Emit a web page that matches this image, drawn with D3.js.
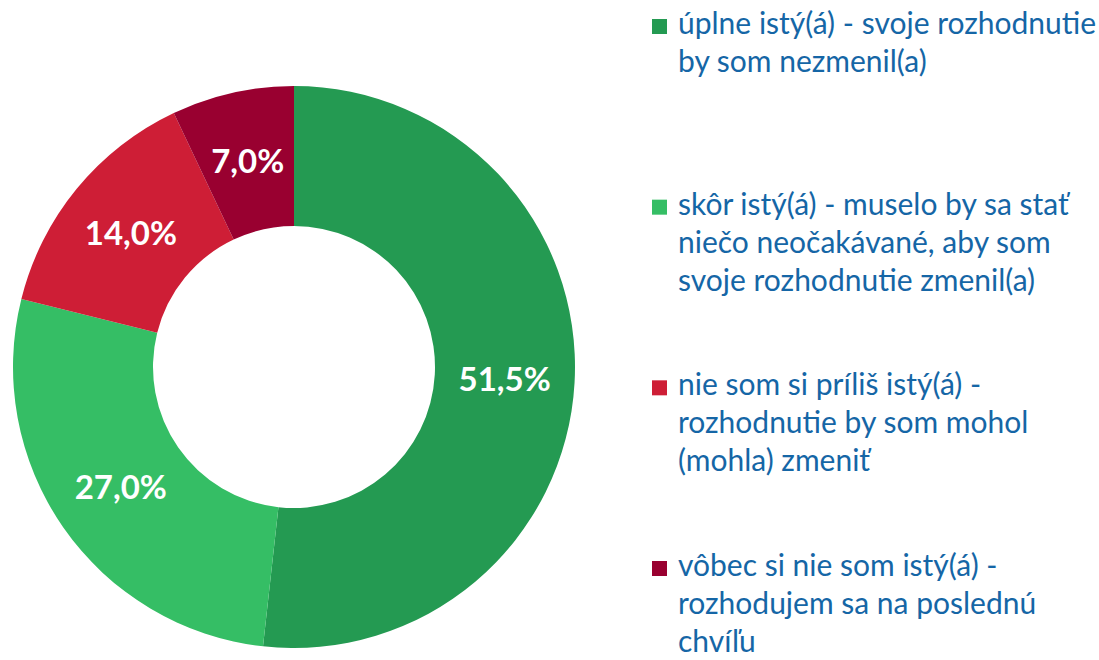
<!DOCTYPE html>
<html><head><meta charset="utf-8">
<script src="https://cdn.jsdelivr.net/npm/d3@7"></script>
<style>body{margin:0;background:#fff}svg{display:block}</style>
</head><body>
<svg id="c" width="1099" height="660"></svg>
<script>
const categories = [
  ["úplne istý(á) - svoje rozhodnutie", "by som nezmenil(a)"],
  ["skôr istý(á) - muselo by sa stať", "niečo neočakávané, aby som", "svoje rozhodnutie zmenil(a)"],
  ["nie som si príliš istý(á) -", "rozhodnutie by som mohol", "(mohla) zmeniť"],
  ["vôbec si nie som istý(á) -", "rozhodujem sa na poslednú", "chvíľu"]
];
const values = [51.5, 27.0, 14.0, 7.0];
const labels = ["51,5%", "27,0%", "14,0%", "7,0%"];
const colors = ["#249A52", "#35BE65", "#CE1E36", "#990030"];

const svg = d3.select("#c");
const cx = 294, cy = 367, rOut = 281, rIn = 141;
const pie = d3.pie().sort(null).value(d => d);
const arcs = pie(values);
const arc = d3.arc().innerRadius(rIn).outerRadius(rOut);
const labelArc = d3.arc().innerRadius((rIn + rOut) / 2).outerRadius((rIn + rOut) / 2);
const g = svg.append("g").attr("transform", `translate(${cx},${cy})`);
g.selectAll("path").data(arcs).join("path")
  .attr("d", arc).attr("fill", (d, i) => colors[i]);
g.selectAll("text").data(arcs).join("text")
  .attr("transform", d => `translate(${labelArc.centroid(d)})`)
  .attr("text-anchor", "middle").attr("dy", "0.36em")
  .attr("fill", "#fff").attr("font-family", "Lato, sans-serif")
  .attr("font-weight", "bold").attr("font-size", 33)
  .text((d, i) => labels[i]);

const lg = svg.append("g");
const itemY = d3.scaleLinear().domain([0, 3]).range([34, 576]);
categories.forEach((lines, i) => {
  const y0 = itemY(i);
  lg.append("rect").attr("x", 652).attr("y", y0 - 15).attr("width", 15).attr("height", 15)
    .attr("fill", colors[i]);
  const t = lg.append("text").attr("x", 678).attr("y", y0)
    .attr("fill", "#1566A6").attr("font-family", "Lato, sans-serif").attr("font-size", 30);
  lines.forEach((l, j) => {
    t.append("tspan").attr("x", 678).attr("y", y0 + j * 38).text(l);
  });
});
</script>
</body></html>
